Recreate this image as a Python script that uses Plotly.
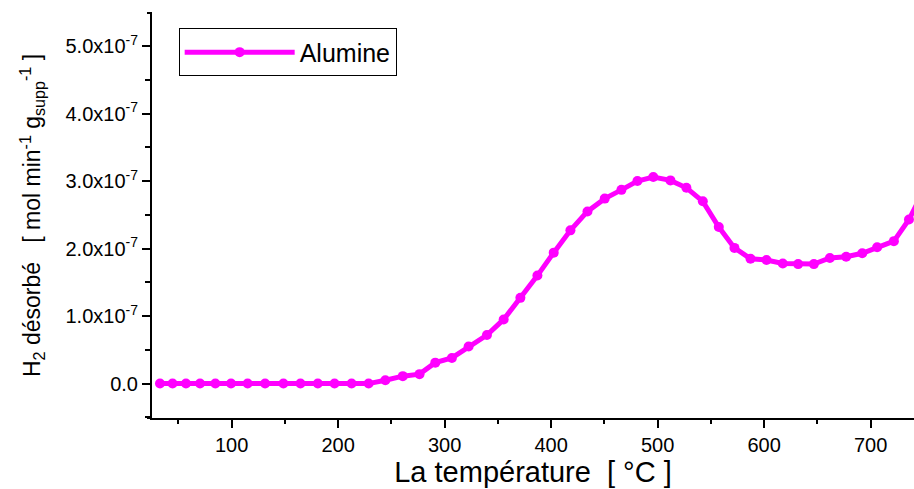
import plotly.graph_objects as go

# Data (temperature in °C, H2 desorbed in units of 1e-7 mol min-1 g-1)
temperature_c = [32.7, 44.5, 57.1, 70.3, 84.7, 99.4, 115.0, 131.4, 148.6, 164.6,
                 180.9, 196.6, 212.6, 228.6, 244.3, 260.7, 276.4, 291.2, 306.8, 322.5,
                 339.7, 355.4, 371.1, 387.1, 402.4, 418.1, 434.1, 450.3, 466.0, 481.0,
                 495.9, 512.0, 527.0, 542.4, 557.4, 572.1, 587.2, 602.2, 617.5, 631.9,
                 646.7, 661.7, 677.0, 692.1, 706.1, 721.8, 736.0, 751.0]
h2_desorbed_e7 = [0.0, 0.0, 0.0, 0.0, 0.0, 0.0, 0.0, 0.0, 0.0, 0.0,
                  0.0, 0.0, 0.0, 0.0, 0.05, 0.11, 0.14, 0.31, 0.38, 0.55,
                  0.72, 0.95, 1.27, 1.60, 1.94, 2.27, 2.55, 2.74, 2.87, 3.00,
                  3.06, 3.01, 2.90, 2.70, 2.32, 2.01, 1.85, 1.83, 1.78, 1.77,
                  1.77, 1.86, 1.88, 1.93, 2.02, 2.11, 2.43, 2.90]

series_name = "Alumine"
y_tick_values = [0, 1, 2, 3, 4, 5]
y_tick_labels = ["0.0", "1.0x10<sup>-7</sup>", "2.0x10<sup>-7</sup>",
                 "3.0x10<sup>-7</sup>", "4.0x10<sup>-7</sup>", "5.0x10<sup>-7</sup>"]
x_tick_values = [100, 200, 300, 400, 500, 600, 700]
x_tick_labels = ["100", "200", "300", "400", "500", "600", "700"]

FONT = "Liberation Sans, Arial, sans-serif"
MAGENTA = "#FF00FF"

fig = go.Figure()
fig.add_trace(go.Scatter(
    x=temperature_c, y=h2_desorbed_e7, name=series_name,
    mode="lines+markers",
    line=dict(color=MAGENTA, width=5),
    marker=dict(color=MAGENTA, size=10, symbol="circle"),
))

axis_common = dict(
    showgrid=False, zeroline=False, showline=True, linecolor="black", linewidth=2,
    ticks="outside", tickwidth=2, tickcolor="black", ticklen=8,
    tickfont=dict(family=FONT, size=20, color="black"),
    mirror=False,
)

fig.update_layout(
    width=914, height=489,
    margin=dict(l=152, r=0, t=13, b=71),
    paper_bgcolor="white", plot_bgcolor="white",
    font=dict(family=FONT, color="black"),
    xaxis=dict(
        range=[25.2, 740.7],
        tickmode="array", tickvals=x_tick_values, ticktext=x_tick_labels,
        minor=dict(ticks="outside", ticklen=4, tickwidth=2, tickcolor="black", dtick=50, tick0=0),
        title=dict(text="La température  [ °C ]", font=dict(family=FONT, size=29), standoff=4),
        **axis_common,
    ),
    yaxis=dict(
        range=[-0.51, 5.49],
        tickmode="array", tickvals=y_tick_values, ticktext=y_tick_labels,
        minor=dict(ticks="outside", ticklen=5, tickwidth=2, tickcolor="black", dtick=0.5, tick0=0),
        title=dict(text="H<sub>2</sub> désorbé   [ mol min<sup>-1</sup> g<sub>supp</sub><sup>-1</sup> ]",
                   font=dict(family=FONT, size=23), standoff=18),
        **axis_common,
    ),
    showlegend=True,
    legend=dict(
        x=0.035, y=0.962, xanchor="left", yanchor="top",
        bgcolor="white", bordercolor="black", borderwidth=1,
        font=dict(family=FONT, size=25, color="black"),
        itemwidth=110,
    ),
    shapes=[
        dict(type="line", xref="paper", yref="paper", xsizemode="pixel", xanchor=0,
             x0=-5, x1=0, y0=1, y1=1, line=dict(color="black", width=2)),
        dict(type="line", xref="paper", yref="paper", xsizemode="pixel", xanchor=0,
             x0=-5, x1=0, y0=0, y1=0, line=dict(color="black", width=2)),
    ],
)

fig.write_html("out.html")
